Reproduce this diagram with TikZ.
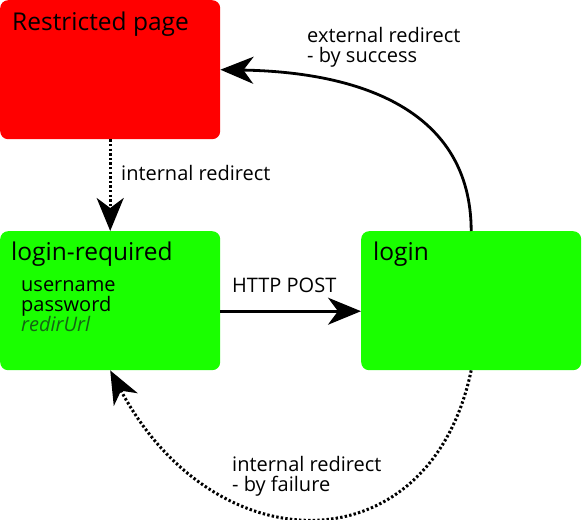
\documentclass[tikz,border=0pt]{standalone}
\usepackage{fontspec}
\setmainfont{Open Sans}
\usetikzlibrary{arrows.meta}
\definecolor{boxred}{RGB}{255,0,0}
\definecolor{boxgreen}{RGB}{26,255,0}
\definecolor{urlgreen}{RGB}{20,100,20}
\begin{document}
\begin{tikzpicture}[x=1pt,y=-1pt,
  box/.style={draw=none, rounded corners=8pt, minimum width=220pt, minimum height=139pt, anchor=north west, inner sep=0pt},
  titletext/.style={anchor=base west, font=\fontsize{24.5}{28}\selectfont, inner sep=0pt},
  bodytext/.style={anchor=base west, font=\fontsize{20}{20}\selectfont, inner sep=0pt},
  conn/.style={line width=2.8pt, -{Stealth[length=33pt,width=27pt,inset=10pt]}},
  dotline/.style={conn, line width=3pt, dash pattern=on 2.4pt off 2.2pt}]
\useasboundingbox (0,0) rectangle (582,520);
\node[box, fill=boxred] (restricted) at (0,0) {};
\node[box, fill=boxgreen] (loginreq) at (0,231) {};
\node[box, fill=boxgreen] (login) at (361,231) {};
\node[titletext] (t1) at (12,30) {Restricted page};
\node[titletext] (t2) at (11,260) {login-required};
\node[titletext] (t3) at (373,260) {login};
\node[bodytext] (u1) at (21,291) {username};
\node[bodytext] (u2) at (21,311) {password};
\node[bodytext, text=urlgreen, font=\fontsize{20}{20}\selectfont\itshape] (u3) at (21,331) {redirUrl};
\node[bodytext] (l1) at (121,180) {internal redirect};
\node[bodytext] (l2) at (232,292) {HTTP POST};
\node[bodytext] (l3a) at (307,42) {external redirect};
\node[bodytext] (l3b) at (307,62) {- by success};
\node[bodytext] (l4a) at (232,471) {internal redirect};
\node[bodytext] (l4b) at (232,491) {- by failure};
\draw[dotline] (restricted.south) -- (loginreq.north);
\draw[conn] ([yshift=-10.5pt]loginreq.east) -- ([yshift=-10.5pt]login.west);
\draw[conn] (login.north) .. controls (471,110) and (360,72) .. (restricted.east);
\draw[dotline] (login.south) .. controls (430,567) and (215,567) .. (loginreq.south);
\end{tikzpicture}
\end{document}
